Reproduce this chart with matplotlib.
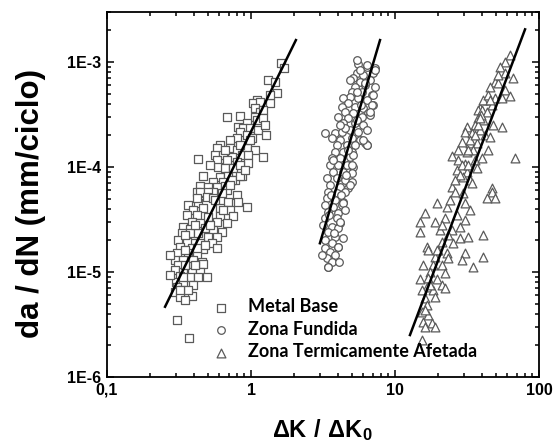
import matplotlib
matplotlib.use("Agg")
import matplotlib.pyplot as plt
from matplotlib.ticker import FixedLocator, FixedFormatter, LogLocator, NullFormatter

plt.rcParams['font.family'] = ['Liberation Sans', 'DejaVu Sans']
plt.rcParams['mathtext.fontset'] = 'custom'
plt.rcParams['mathtext.rm'] = 'Liberation Sans'
plt.rcParams['mathtext.bf'] = 'Liberation Sans:bold'

# ---------------- data ----------------
mb_dk = [1.61, 1.69, 1.31, 1.47, 1.51, 1.36, 1.10, 1.03, 1.15, 1.07, 1.15, 1.21, 0.678, 0.839, 1.07,
         1.10, 1.21, 0.933, 0.812, 0.880, 0.984, 1.12, 0.839, 0.933, 1.27, 1.01, 0.795, 0.714, 0.609,
         0.578, 0.714, 0.795, 0.933, 1.07, 0.562, 0.640, 0.735, 0.861, 0.953, 1.21, 0.428, 0.578, 0.678,
         0.795, 0.953, 0.590, 0.659, 0.750, 0.839, 0.464, 0.609, 0.692, 0.861, 0.774, 0.545, 0.640, 0.735,
         0.442, 0.503, 0.578, 0.659, 0.420, 0.464, 0.545, 0.678, 0.795, 0.839, 0.442, 0.503, 0.626, 0.365,
         0.428, 0.692, 0.812, 0.938, 0.395, 0.464, 0.609, 0.714, 0.357, 0.420, 0.503, 0.609, 0.750, 0.387,
         0.442, 0.578, 0.678, 0.336, 0.377, 0.479, 0.545, 0.626, 0.330, 0.395, 0.503, 0.578, 0.311, 0.357,
         0.442, 0.533, 0.321, 0.387, 0.464, 0.578, 0.305, 0.365, 0.420, 0.297, 0.336, 0.395, 0.455, 0.311,
         0.357, 0.464, 0.297, 0.336, 0.387, 0.442, 0.321, 0.377, 0.428, 0.492, 0.301, 0.336, 0.395, 0.305,
         0.330, 0.297, 0.321, 0.387, 0.305, 0.371, 0.492, 0.545, 0.420, 0.377, 0.428, 0.348, 0.420, 0.336,
         0.365, 0.321,
         1.36, 1.25, 0.984, 0.839, 0.659, 0.519, 0.908, 0.714, 0.562, 0.640, 0.408, 0.519, 0.348, 0.479,
         0.274, 0.348, 0.274, 0.408, 0.348]
mb_rate = [9.84e-4, 8.83e-4, 6.74e-4, 6.45e-4, 5.10e-4, 4.07e-4, 4.35e-4, 4.07e-4, 4.19e-4, 3.65e-4,
           3.36e-4, 3.49e-4, 2.99e-4, 3.06e-4, 3.01e-4, 2.80e-4, 2.93e-4, 2.62e-4, 2.42e-4, 2.35e-4,
           2.35e-4, 2.25e-4, 2.17e-4, 2.02e-4, 2.02e-4, 1.89e-4, 1.89e-4, 1.81e-4, 1.62e-4, 1.52e-4,
           1.52e-4, 1.45e-4, 1.52e-4, 1.45e-4, 1.30e-4, 1.30e-4, 1.25e-4, 1.30e-4, 1.30e-4, 1.25e-4,
           1.19e-4, 1.17e-4, 1.17e-4, 1.12e-4, 1.09e-4, 1.01e-4, 9.78e-5, 9.78e-5, 1.045e-4, 8.21e-5,
           8.09e-5, 8.21e-5, 8.21e-5, 7.52e-5, 7.25e-5, 7.25e-5, 7.52e-5, 6.59e-5, 6.49e-5, 6.49e-5,
           6.59e-5, 5.82e-5, 5.65e-5, 5.82e-5, 6.04e-5, 5.41e-5, 8.21e-5, 5.82e-5, 5.82e-5, 5.65e-5,
           4.35e-5, 4.54e-5, 4.67e-5, 4.67e-5, 4.19e-5, 3.89e-5, 4.07e-5, 4.07e-5, 3.89e-5, 3.49e-5,
           3.49e-5, 3.36e-5, 3.40e-5, 3.40e-5, 3.01e-5, 2.93e-5, 3.01e-5, 2.93e-5, 2.70e-5, 2.57e-5,
           2.63e-5, 2.51e-5, 2.42e-5, 2.35e-5, 2.25e-5, 2.17e-5, 2.17e-5, 2.02e-5, 1.94e-5, 1.89e-5,
           1.89e-5, 1.74e-5, 1.69e-5, 1.66e-5, 1.69e-5, 1.52e-5, 1.52e-5, 1.45e-5, 1.30e-5, 1.30e-5,
           1.29e-5, 1.25e-5, 1.17e-5, 1.14e-5, 1.19e-5, 1.045e-5, 1.01e-5, 1.01e-5, 1.01e-5, 9.16e-6,
           8.96e-6, 8.96e-6, 8.96e-6, 8.09e-6, 7.86e-6, 7.52e-6, 7.25e-6, 6.74e-6, 6.49e-6, 5.82e-6,
           5.91e-6, 3.49e-6, 2.35e-6, 5.21e-5, 5.07e-5, 5.07e-5, 2.35e-5, 2.35e-5, 1.62e-5, 1.69e-5,
           9.0e-6, 6.74e-6, 6.74e-6,
           4.85e-4, 2.51e-4, 1.81e-4, 1.62e-4, 1.45e-4, 1.045e-4, 9.35e-5, 6.74e-5, 4.85e-5, 3.89e-5,
           2.80e-5, 2.80e-5, 2.25e-5, 1.81e-5, 1.45e-5, 1.17e-5, 9.35e-6, 1.17e-5, 5.41e-6]

zf_dk = [5.56, 6.36, 7.26, 5.42, 6.03, 7.07, 5.13, 6.70, 5.71, 5.27, 6.19, 7.26, 5.00, 5.87, 6.89,
         4.87, 4.38, 5.56, 6.36, 4.74, 7.07, 4.26, 5.27, 6.03, 4.50, 6.53, 5.13, 4.04, 4.74, 5.87,
         6.70, 4.38, 5.27, 6.03, 3.26, 3.83, 4.26, 4.87, 5.56, 6.36, 3.63, 4.15, 5.00, 5.71, 6.19,
         6.36, 3.94, 4.62, 5.27, 3.83, 4.38, 5.00, 3.63, 4.15, 4.87, 3.54, 4.04, 4.62, 5.13, 3.73,
         4.38, 5.00, 3.35, 3.94, 4.50, 5.00, 3.54, 4.15, 4.74, 3.44, 3.94, 4.50, 3.35, 3.83, 4.38,
         3.26, 3.73, 4.26, 3.44, 4.04, 3.26, 3.94, 4.15, 3.18, 3.63, 4.04, 3.44, 3.83, 3.26, 3.63,
         4.04, 3.26, 3.54, 3.83, 3.35, 3.63, 3.44,
         5.42, 6.36, 7.26, 6.19, 7.07, 6.89, 6.70, 6.36, 6.03, 5.13, 5.00, 4.87, 4.38, 4.15, 4.04,
         3.44, 4.50, 5.42, 4.15, 4.72, 3.70, 4.57, 3.60, 4.23, 3.48, 4.50, 3.78, 4.33, 3.10, 4.10,
         5.71, 4.87, 5.80, 5.45]
zf_rate = [9.50e-4, 9.02e-4, 8.71e-4, 7.80e-4, 7.52e-4, 7.80e-4, 7.00e-4, 6.74e-4, 6.49e-4, 5.82e-4,
           6.04e-4, 5.82e-4, 5.21e-4, 5.21e-4, 4.85e-4, 4.67e-4, 4.51e-4, 4.51e-4, 4.35e-4, 4.04e-4,
           3.89e-4, 3.75e-4, 3.75e-4, 3.62e-4, 3.36e-4, 3.25e-4, 3.25e-4, 3.01e-4, 2.91e-4, 3.01e-4,
           3.13e-4, 2.61e-4, 2.61e-4, 2.51e-4, 2.09e-4, 2.09e-4, 2.17e-4, 2.25e-4, 2.17e-4, 2.25e-4,
           1.88e-4, 1.81e-4, 1.88e-4, 1.81e-4, 1.68e-4, 1.62e-4, 1.62e-4, 1.62e-4, 1.62e-4, 1.40e-4,
           1.40e-4, 1.40e-4, 1.21e-4, 1.21e-4, 1.25e-4, 1.045e-4, 1.045e-4, 1.045e-4, 1.01e-4, 9.02e-5,
           9.02e-5, 8.71e-5, 7.80e-5, 7.80e-5, 7.52e-5, 7.25e-5, 6.74e-5, 6.49e-5, 6.27e-5, 5.82e-5,
           5.62e-5, 5.82e-5, 5.04e-5, 4.85e-5, 4.67e-5, 4.35e-5, 4.19e-5, 4.35e-5, 3.75e-5, 3.62e-5,
           3.25e-5, 3.25e-5, 2.91e-5, 2.80e-5, 2.70e-5, 2.61e-5, 2.42e-5, 2.17e-5, 2.02e-5, 1.88e-5,
           1.74e-5, 1.68e-5, 1.56e-5, 1.45e-5, 1.35e-5, 1.25e-5, 1.12e-5,
           1.045e-3, 9.35e-4, 8.39e-4, 6.31e-4, 4.85e-4, 3.89e-4, 3.36e-4, 1.62e-4, 1.81e-4, 1.30e-4,
           1.045e-4, 6.74e-5, 4.54e-5, 3.01e-5, 1.74e-5, 1.12e-5, 2.35e-4, 2.80e-4, 2.51e-4, 1.45e-4,
           1.17e-4, 8.39e-5, 5.41e-5, 5.41e-5, 3.49e-5, 3.89e-5, 2.35e-5, 2.09e-5, 1.45e-5, 1.25e-5,
           8.39e-4, 6.74e-4, 3.89e-4, 5.21e-4]

zta_dk = [62.9, 58.0, 53.6, 66.4, 58.0, 49.5, 45.7, 52.1, 58.0, 62.9, 43.3, 49.5, 55.0, 46.9, 38.9,
          37.9, 40.0, 43.3, 37.9, 41.1, 31.5, 35.9, 48.2, 55.0, 30.6, 34.1, 38.9, 42.2, 45.7, 29.0,
          33.2, 36.9, 24.8, 31.5, 35.0, 44.5, 27.5, 30.6, 35.9, 40.0, 68.1, 26.8, 31.5, 36.9, 29.8,
          33.2, 24.8, 34.1, 46.9, 46.9, 43.3, 49.5, 26.1, 29.8, 30.6, 33.2, 19.5, 22.9, 16.2, 19.0,
          14.9, 14.9, 22.2, 26.8, 30.6, 28.3, 20.5, 24.8, 23.4, 28.3, 32.3, 41.1, 21.1, 25.4, 16.6,
          17.0, 20.0, 22.9, 30.6, 41.1, 19.0, 23.4, 29.0, 15.7, 18.5, 21.1, 35.0, 17.5, 22.2, 14.9,
          17.0, 19.5, 16.6, 21.1, 22.2, 15.3, 18.5, 19.0, 16.2, 16.6, 15.3, 17.0, 15.7, 18.0, 19.0,
          16.2, 15.3, 40.8, 44.2, 37.7, 39.5, 33.2, 32.1, 29.2, 28.3,
          51.9, 45.7, 35.9, 32.3, 26.1, 24.1, 21.3, 19.5, 17.5, 16.2, 27.5, 38.9]
zta_rate = [1.17e-3, 1.01e-3, 9.02e-4, 7.00e-4, 7.80e-4, 6.49e-4, 5.82e-4, 6.27e-4, 5.41e-4, 4.74e-4,
            4.35e-4, 4.51e-4, 4.51e-4, 3.89e-4, 3.62e-4, 3.49e-4, 3.49e-4, 3.36e-4, 2.91e-4, 2.80e-4,
            2.42e-4, 2.51e-4, 2.51e-4, 2.42e-4, 2.17e-4, 2.09e-4, 2.25e-4, 2.02e-4, 1.94e-4, 1.74e-4,
            1.68e-4, 1.68e-4, 1.27e-4, 1.40e-4, 1.45e-4, 1.45e-4, 1.17e-4, 1.08e-4, 1.17e-4, 1.21e-4,
            1.21e-4, 9.35e-5, 9.02e-5, 9.72e-5, 8.09e-5, 7.52e-5, 6.49e-5, 7.09e-5, 6.27e-5, 5.82e-5,
            5.04e-5, 5.04e-5, 5.82e-5, 5.62e-5, 4.51e-5, 3.89e-5, 4.51e-5, 4.19e-5, 3.62e-5, 3.01e-5,
            3.01e-5, 2.42e-5, 3.25e-5, 3.49e-5, 3.13e-5, 2.70e-5, 2.51e-5, 2.51e-5, 2.25e-5, 2.09e-5,
            2.17e-5, 2.25e-5, 1.94e-5, 1.88e-5, 1.74e-5, 1.62e-5, 1.62e-5, 1.51e-5, 1.51e-5, 1.40e-5,
            1.40e-5, 1.35e-5, 1.30e-5, 1.17e-5, 1.17e-5, 1.17e-5, 1.12e-5, 1.01e-5, 9.72e-6, 8.52e-6,
            8.71e-6, 8.52e-6, 7.25e-6, 7.52e-6, 7.00e-6, 6.74e-6, 6.74e-6, 5.82e-6, 5.62e-6, 4.85e-6,
            4.19e-6, 3.89e-6, 3.36e-6, 3.25e-6, 3.01e-6, 3.01e-6, 2.25e-6, 4.35e-4, 4.85e-4, 2.51e-4,
            3.13e-4, 1.81e-4, 1.45e-4, 1.04e-4, 8.39e-5,
            7.52e-4, 4.35e-4, 2.02e-4, 1.045e-4, 7.52e-5, 4.85e-5, 2.80e-5, 1.62e-5, 7.52e-6, 4.35e-6,
            1.45e-4, 2.91e-4]

# fitted Paris-law lines (end points)
mb_fit_dk = [0.253, 2.05]
mb_fit_rate = [4.67e-6, 1.62e-3]
zf_fit_dk = [3.01, 7.87]
zf_fit_rate = [1.88e-5, 1.62e-3]
zta_fit_dk = [12.7, 80.0]
zta_fit_rate = [2.51e-6, 2.05e-3]

series_labels = ["Metal Base", "Zona Fundida", "Zona Termicamente Afetada"]
x_ticks = [0.1, 1, 10, 100]
x_ticklabels = ["0,1", "1", "10", "100"]
y_ticks = [1e-6, 1e-5, 1e-4, 1e-3]
y_ticklabels = ["1E-6", "1E-5", "1E-4", "1E-3"]

# ---------------- figure ----------------
fig = plt.figure(figsize=(5.57, 4.43), dpi=100)
ax = fig.add_axes([0.1921, 0.1490, 0.7756, 0.8239])

mcol = '#5a5a5a'
h1 = ax.scatter(mb_dk, mb_rate, marker='s', s=26, facecolors='white', edgecolors=mcol, linewidths=0.9, zorder=2)
h2 = ax.scatter(zf_dk, zf_rate, marker='o', s=30, facecolors='white', edgecolors=mcol, linewidths=0.9, zorder=2)
h3 = ax.scatter(zta_dk, zta_rate, marker='^', s=40, facecolors='white', edgecolors=mcol, linewidths=0.9, zorder=2)

for fx, fy in [(mb_fit_dk, mb_fit_rate), (zf_fit_dk, zf_fit_rate), (zta_fit_dk, zta_fit_rate)]:
    ax.plot(fx, fy, color='black', lw=1.8, zorder=3)

ax.set_xscale('log')
ax.set_yscale('log')
ax.set_xlim(0.1, 100)
ax.set_ylim(1e-6, 3e-3)

ax.xaxis.set_major_locator(FixedLocator(x_ticks))
ax.xaxis.set_major_formatter(FixedFormatter(x_ticklabels))
ax.yaxis.set_major_locator(FixedLocator(y_ticks))
ax.yaxis.set_major_formatter(FixedFormatter(y_ticklabels))
ax.xaxis.set_minor_locator(LogLocator(base=10, subs=range(2, 10)))
ax.yaxis.set_minor_locator(LogLocator(base=10, subs=range(2, 10)))
ax.xaxis.set_minor_formatter(NullFormatter())
ax.yaxis.set_minor_formatter(NullFormatter())

ax.tick_params(which='both', direction='in', top=True, right=True, width=1.1, colors='black')
ax.tick_params(which='major', length=5, labelsize=11.5, pad=4)
ax.tick_params(which='minor', length=3)
for lab in ax.get_xticklabels() + ax.get_yticklabels():
    lab.set_fontweight('bold')
for sp in ax.spines.values():
    sp.set_linewidth(1.3)

fig.text(31 / 557, 1 - 203 / 443, "da / dN (mm/ciclo)", rotation=90, ha='center', va='center',
         fontsize=22.5, fontweight='bold')
fig.text(322 / 557, 1 - 437 / 443, r'$\mathbf{\Delta K\ /\ \Delta K_0}$', ha='center', va='baseline',
         fontsize=17)

leg = ax.legend([h1, h2, h3], series_labels, loc='upper left', bbox_to_anchor=(0.205, 0.235),
                frameon=False, handletextpad=0.5, labelspacing=0.3, borderaxespad=0,
                prop={'family': 'Lato', 'weight': 'bold', 'size': 13})
for t in leg.get_texts():
    t.set_color('black')

fig.savefig('out.png', dpi=100)
